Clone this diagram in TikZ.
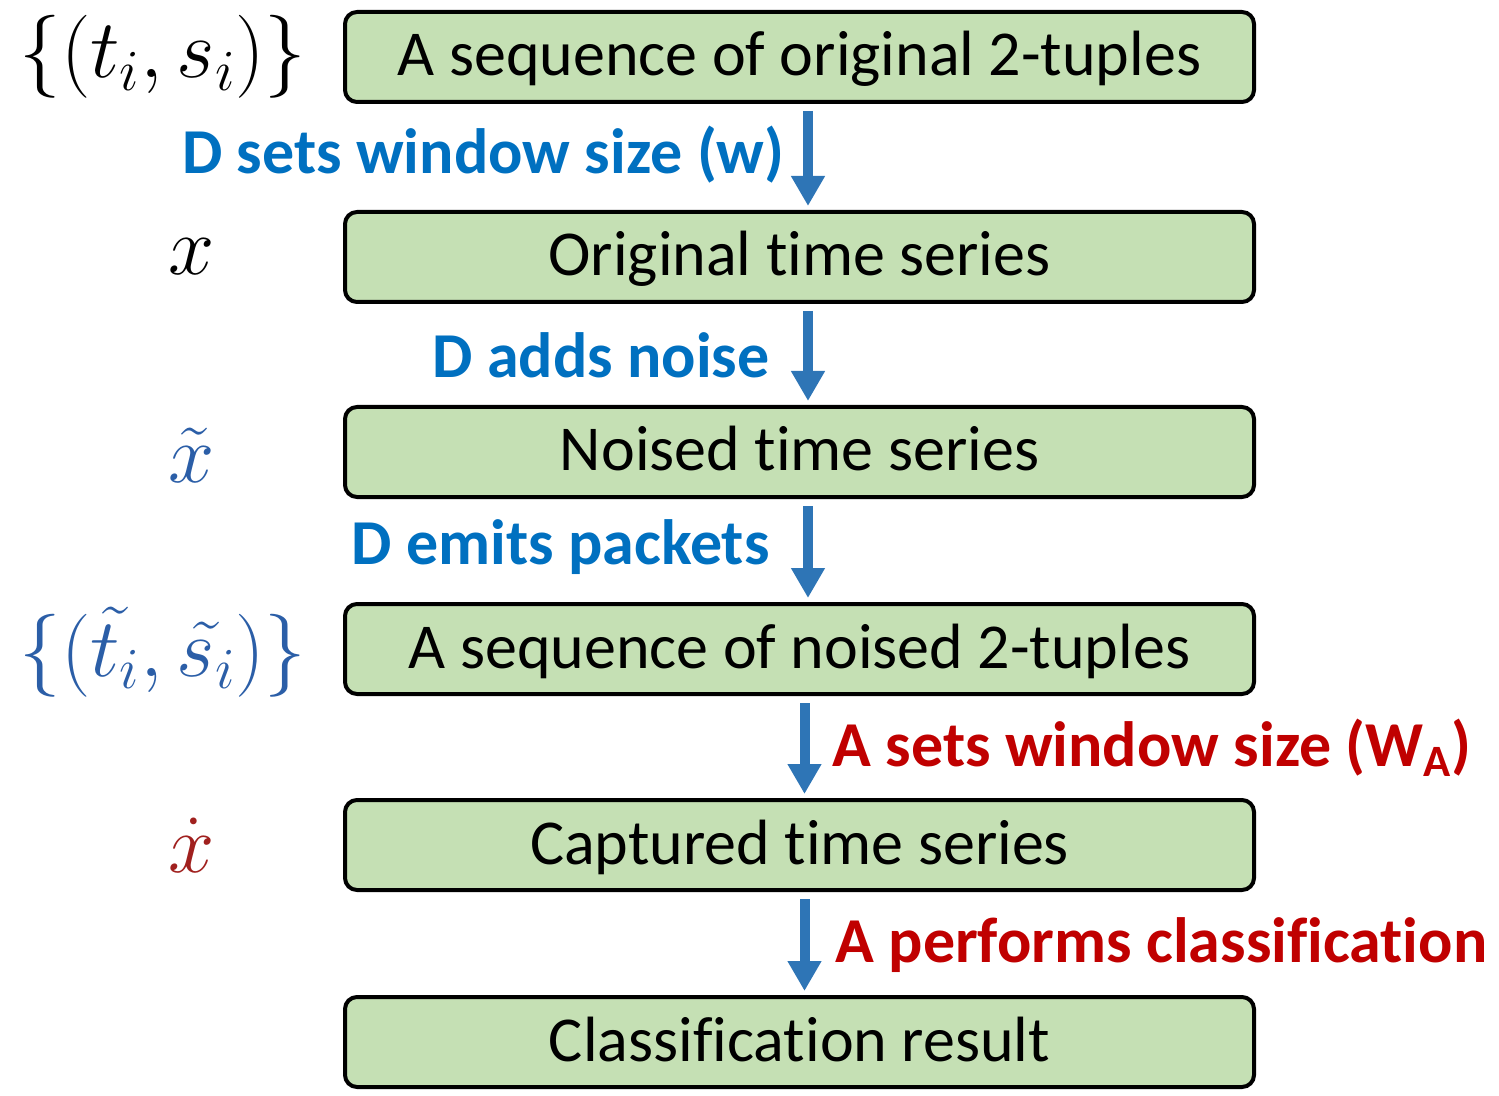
\RequirePackage{fix-cm}
\documentclass[tikz,border=0pt]{standalone}
\usepackage{fontspec}
\setmainfont[Ligatures=NoCommon]{Carlito}
\usepackage{amsmath}
\usetikzlibrary{arrows.meta}
\definecolor{boxgreen}{HTML}{C5E0B4}
\definecolor{arrblue}{HTML}{2E75B6}
\definecolor{lblblue}{HTML}{0070C0}
\definecolor{lblred}{HTML}{C00000}
\definecolor{mathblue}{HTML}{2B5EA7}
\definecolor{mathred}{HTML}{A0201E}
\tikzset{
  stage/.style={draw=black, line width=2pt, fill=boxgreen, rounded corners=6pt,
    minimum width=454.5pt, minimum height=45pt, inner sep=0pt,
    text height=19pt, text depth=0pt,
    font=\fontsize{32}{38}\selectfont},
  arr/.style={draw=arrblue, line width=5pt, -{Triangle[width=16pt,length=15pt]}},
  lbl/.style={font=\fontsize{32}{38}\selectfont\bfseries, inner sep=0pt},
  mlbl/.style={font=\fontsize{41.5}{48}\selectfont, inner sep=0pt}
}
\begin{document}
\begin{tikzpicture}[x=0.5pt,y=-0.5pt]
\useasboundingbox (0,0) rectangle (1499,1096);
\node[stage] (b1) at (799.5,57) {A sequence of original 2-tuples};
\node[stage] (b2) at (799.5,257) {Original time series};
\node[stage] (b3) at (799.5,452) {Noised time series};
\node[stage] (b4) at (799.5,649) {A sequence of noised 2-tuples};
\node[stage] (b5) at (799.5,845) {Captured time series};
\node[stage] (b6) at (799.5,1042) {Classification result};

\draw[arr] ([xshift=4.25pt,yshift=-3.5pt]b1.south) -- ([xshift=4.25pt,yshift=2pt]b2.north);
\draw[arr] ([xshift=4.25pt,yshift=-3.5pt]b2.south) -- ([xshift=4.25pt,yshift=2pt]b3.north);
\draw[arr] ([xshift=4.25pt,yshift=-3.5pt]b3.south) -- ([xshift=4.25pt,yshift=2pt]b4.north);
\draw[arr] ([xshift=2.5pt,yshift=-3.5pt]b4.south) -- ([xshift=2.5pt,yshift=2pt]b5.north);
\draw[arr] ([xshift=2.5pt,yshift=-3.5pt]b5.south) -- ([xshift=2.5pt,yshift=2pt]b6.north);

\node[lbl, text=lblblue, anchor=east] (l1) at (785,155) {D sets window size (w)};
\node[lbl, text=lblblue, anchor=east] (l2) at (770,355) {D adds noise};
\node[lbl, text=lblblue, anchor=east] (l3) at (770,547) {D emits packets};
\node[lbl, text=lblred, anchor=west] (l4) at (832,748) {A sets window size (W\textsubscript{A})};
\node[lbl, text=lblred, anchor=west] (l5) at (835,945) {A performs classification};

\node[mlbl] (m1) at (163,57) {$\{(t_i,s_i)\}$};
\node[mlbl] (m2) at (192,257) {$x$};
\node[mlbl, text=mathblue] (m3) at (192,455) {$\tilde{x}$};
\node[mlbl, text=mathblue] (m4) at (163,652) {$\{(\tilde{t_i},\tilde{s_i})\}$};
\node[mlbl, text=mathred] (m5) at (192,845) {$\dot{x}$};
\end{tikzpicture}
\end{document}
